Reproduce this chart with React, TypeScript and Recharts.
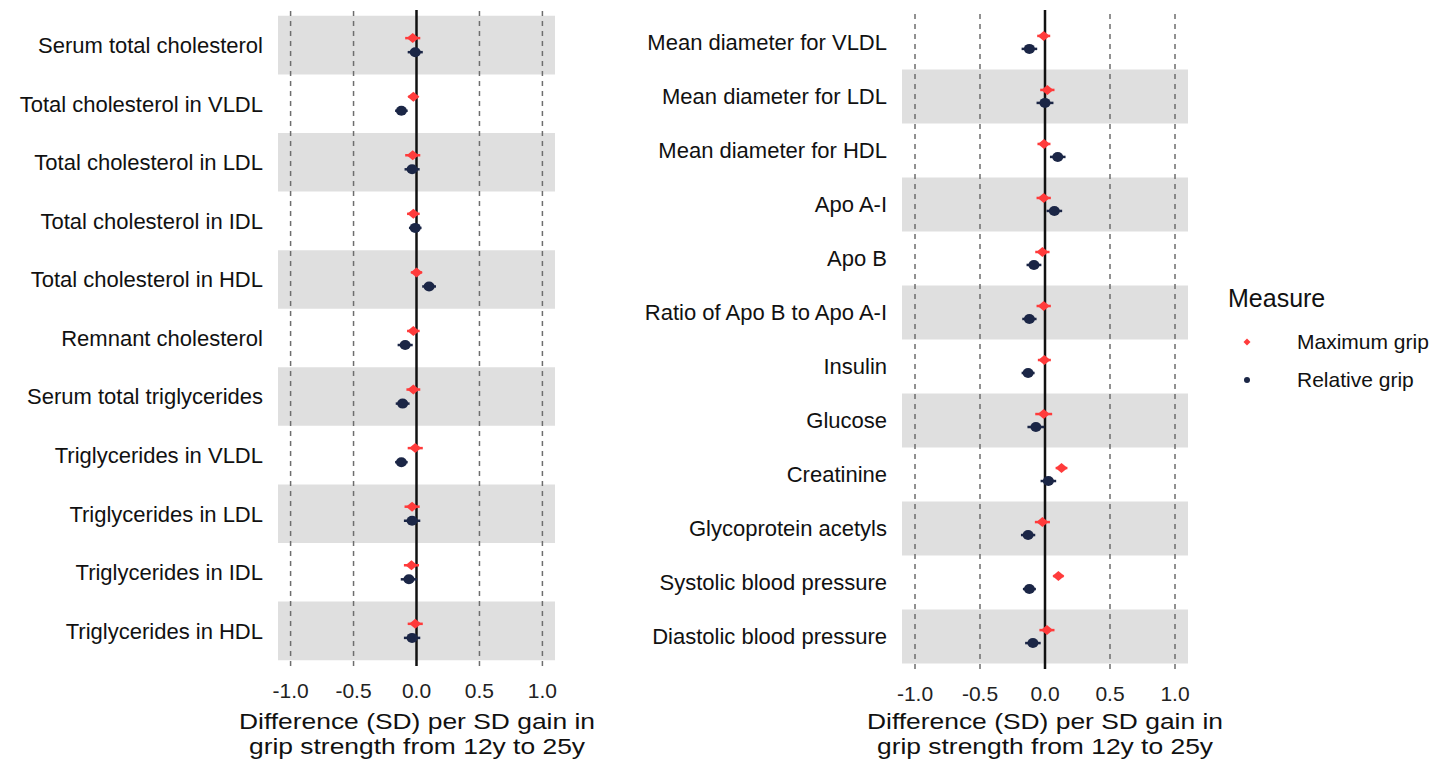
import React from "react";
import {ScatterChart, Scatter, XAxis, YAxis, ErrorBar, ReferenceArea, ReferenceLine} from "recharts";

const FONT = '"Liberation Sans", Arial, sans-serif';
const RED = '#ff3b3b';
const NAVY = '#1b2646';

const leftLabels = [
    'Serum total cholesterol', 'Total cholesterol in VLDL', 'Total cholesterol in LDL',
    'Total cholesterol in IDL', 'Total cholesterol in HDL', 'Remnant cholesterol',
    'Serum total triglycerides', 'Triglycerides in VLDL', 'Triglycerides in LDL',
    'Triglycerides in IDL', 'Triglycerides in HDL',
];
const leftMaxEst = [-0.03, -0.025, -0.03, -0.025, 0.0, -0.025, -0.025, -0.01, -0.035, -0.04, -0.01];
const leftMaxHalf = [0.06, 0.04, 0.06, 0.05, 0.045, 0.05, 0.055, 0.06, 0.06, 0.06, 0.06];
const leftRelEst = [-0.01, -0.12, -0.035, -0.01, 0.10, -0.09, -0.11, -0.12, -0.035, -0.06, -0.035];
const leftRelHalf = [0.06, 0.05, 0.06, 0.05, 0.055, 0.06, 0.055, 0.05, 0.065, 0.065, 0.065];

const rightLabels = [
    'Mean diameter for VLDL', 'Mean diameter for LDL', 'Mean diameter for HDL', 'Apo A-I',
    'Apo B', 'Ratio of Apo B to Apo A-I', 'Insulin', 'Glucose', 'Creatinine',
    'Glycoprotein acetyls', 'Systolic blood pressure', 'Diastolic blood pressure',
];
const rightMaxEst = [-0.01, 0.018, -0.008, -0.01, -0.02, -0.01, -0.005, -0.01, 0.127, -0.02, 0.103, 0.015];
const rightMaxHalf = [0.05, 0.055, 0.05, 0.055, 0.055, 0.055, 0.05, 0.065, 0.045, 0.058, 0.04, 0.058];
const rightRelEst = [-0.12, 0.0, 0.098, 0.072, -0.085, -0.12, -0.13, -0.07, 0.026, -0.13, -0.12, -0.093];
const rightRelHalf = [0.06, 0.065, 0.06, 0.06, 0.057, 0.055, 0.05, 0.065, 0.06, 0.055, 0.05, 0.06];

const xTicks = [-1, -0.5, 0, 0.5, 1];
const gridLines = [-1, -0.5, 0.5, 1];
const xTitle = ['Difference (SD) per SD gain in', 'grip strength from 12y to 25y'];
const legendItems = ['Maximum grip', 'Relative grip'];

const Diamond = (props: any) => {
    const {cx, cy} = props;
    return <polygon points={`${cx},${cy - 5} ${cx + 6},${cy} ${cx},${cy + 5} ${cx - 6},${cy}`} fill={RED}/>;
};

const Dot = (props: any) => <ellipse cx={props.cx} cy={props.cy} rx={5.5} ry={5} fill={NAVY}/>;

type PanelProps = {
    labels: string[];
    maxEst: number[]; maxHalf: number[];
    relEst: number[]; relHalf: number[];
    shadeOdd: boolean;
    left: number; width: number; yAxisWidth: number; right: number; bottom: number;
};

function Panel(p: PanelProps) {
    const n = p.labels.length;
    const off = 0.12;
    const maxData = p.maxEst.map((v, i) => ({x: v, y: i + 1 - off, err: [p.maxHalf[i], p.maxHalf[i]]}));
    const relData = p.relEst.map((v, i) => ({x: v, y: i + 1 + off, err: [p.relHalf[i], p.relHalf[i]]}));
    const rows = p.labels.map((_, i) => i + 1);

    return (
        <div style={{position: 'absolute', left: p.left, top: 0}}>
            <ScatterChart width={p.width} height={765} margin={{top: 10, right: p.right, left: 0, bottom: p.bottom}}>
                {rows.filter(r => (r % 2 === 1) === p.shadeOdd).map(r => (
                    <ReferenceArea key={`band-${r}`} x1={-1.1} x2={1.1} y1={r - 0.5} y2={r + 0.5}
                                   fill="#dfdfdf" fillOpacity={1} stroke="none" ifOverflow="hidden"/>
                ))}
                {gridLines.map(g => (
                    <ReferenceLine key={`g-${g}`} x={g} stroke="#6e6e6e" strokeWidth={1.5} strokeDasharray="5 5"/>
                ))}
                <ReferenceLine x={0} stroke="#111" strokeWidth={2.5}/>
                <XAxis type="number" dataKey="x" domain={[-1.1, 1.1]} ticks={xTicks} allowDataOverflow
                       tickFormatter={(v: number) => v.toFixed(1)} axisLine={false} tickLine={false}
                       tickSize={9} tickMargin={8} height={30}
                       tick={{fontSize: 21, fill: '#222', fontFamily: FONT}}/>
                <YAxis type="number" dataKey="y" domain={[0.4, n + 0.6]} reversed ticks={rows}
                       width={p.yAxisWidth} axisLine={false} tickLine={false} tickSize={8} tickMargin={7}
                       interval={0}
                       tickFormatter={(v: number) => p.labels[v - 1]}
                       tick={{fontSize: 22, fill: '#111', fontFamily: FONT}}/>
                <Scatter data={maxData} shape={<Diamond/>} isAnimationActive={false}>
                    <ErrorBar dataKey="err" direction="x" width={0} stroke={RED} strokeWidth={2.5} isAnimationActive={false}/>
                </Scatter>
                <Scatter data={relData} shape={<Dot/>} isAnimationActive={false}>
                    <ErrorBar dataKey="err" direction="x" width={0} stroke={NAVY} strokeWidth={2.5} isAnimationActive={false}/>
                </Scatter>
            </ScatterChart>
        </div>
    );
}

function AxisTitle({cx}: { cx: number }) {
    // the source image is a little wider than tall, so the title is stretched sideways to match
    return (
        <div style={{
            position: 'absolute', left: cx - 250, width: 500, top: 709, textAlign: 'center',
            fontFamily: FONT, fontSize: 22, lineHeight: '25px', color: '#111',
            transform: 'scaleX(1.2)', transformOrigin: 'center top',
        }}>
            {xTitle.map(t => <div key={t}>{t}</div>)}
        </div>
    );
}

export default function App() {
    return (
        <div style={{position: 'absolute', left: 0, top: 0, width: 1444, height: 765, background: '#fff', overflow: 'hidden'}}>
            <Panel labels={leftLabels} maxEst={leftMaxEst} maxHalf={leftMaxHalf} relEst={leftRelEst}
                   relHalf={leftRelHalf} shadeOdd={true} left={0} width={560} yAxisWidth={278} right={5} bottom={69}/>
            <Panel labels={rightLabels} maxEst={rightMaxEst} maxHalf={rightMaxHalf} relEst={rightRelEst}
                   relHalf={rightRelHalf} shadeOdd={false} left={560} width={640} yAxisWidth={342} right={12} bottom={66}/>
            <AxisTitle cx={417}/>
            <AxisTitle cx={1045}/>
            <div style={{position: 'absolute', left: 1228, top: 283, fontFamily: FONT, color: '#111'}}>
                <div style={{fontSize: 25, lineHeight: '30px'}}>Measure</div>
                {legendItems.map((t, i) => (
                    <div key={t} style={{display: 'flex', alignItems: 'center', height: 38, marginTop: i === 0 ? 10 : 0}}>
                        <svg width={69} height={38}>
                            {i === 0
                                ? <polygon points="19,15.5 22.5,19 19,22.5 15.5,19" fill={RED}/>
                                : <circle cx={19} cy={19} r={3} fill={NAVY}/>}
                        </svg>
                        <span style={{fontSize: 21}}>{t}</span>
                    </div>
                ))}
            </div>
        </div>
    );
}
